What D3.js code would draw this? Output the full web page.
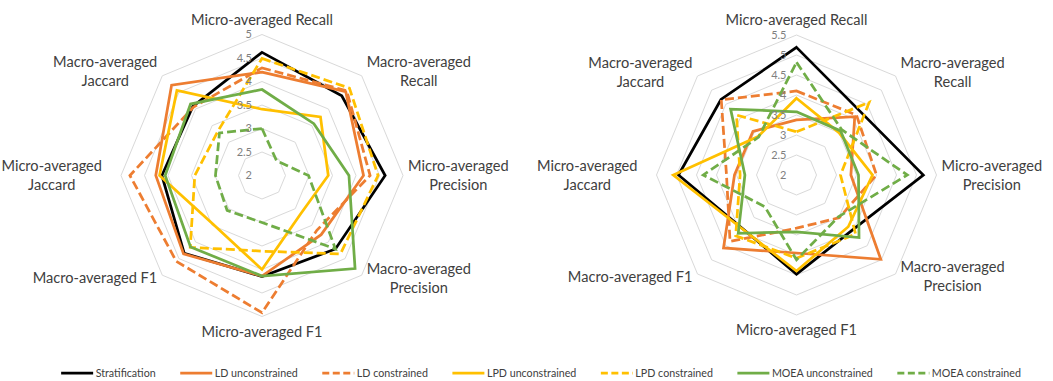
<!DOCTYPE html>
<html>
<head>
<meta charset="utf-8">
<script src="https://cdn.jsdelivr.net/npm/d3@7"></script>
<style>
  html, body { margin: 0; padding: 0; background: #ffffff; }
  svg { display: block; font-family: Lato, "Open Sans", sans-serif; }
</style>
</head>
<body>
<svg id="chart" width="1053" height="381"></svg>
<script>
// Metric axes, clockwise from the top
const axes = [
  "Micro-averaged Recall", "Macro-averaged Recall", "Micro-averaged Precision",
  "Macro-averaged Precision", "Micro-averaged F1", "Macro-averaged F1",
  "Micro-averaged Jaccard", "Macro-averaged Jaccard"
];
// How each axis name wraps in its label
const axisLabelLines = [
  ["Micro-averaged Recall"], ["Macro-averaged", "Recall"], ["Micro-averaged", "Precision"],
  ["Macro-averaged", "Precision"], ["Micro-averaged F1"], ["Macro-averaged F1"],
  ["Micro-averaged", "Jaccard"], ["Macro-averaged", "Jaccard"]
];

const seriesNames = [
  "Stratification", "LD unconstrained", "LD constrained",
  "LPD unconstrained", "LPD constrained", "MOEA unconstrained", "MOEA constrained"
];

// Radial tick labels
const leftTicks = [2, 2.5, 3, 3.5, 4, 4.5, 5];
const rightTicks = [2, 2.5, 3, 3.5, 4, 4.5, 5, 5.5];

// Left radar: one value per axis
const leftStratification    = [4.62, 4.40, 4.62, 4.21, 4.15, 4.34, 4.13, 4.08];
const leftLDUnconstrained   = [4.20, 4.52, 4.16, 3.78, 4.14, 4.36, 4.26, 4.72];
const leftLDConstrained     = [4.29, 4.55, 4.30, 3.65, 4.92, 4.58, 4.81, 4.06];
const leftLPDUnconstrained  = [3.41, 3.76, 3.41, 3.16, 4.00, 3.47, 4.18, 4.56];
const leftLPDConstrained    = [4.49, 4.63, 4.47, 4.36, 3.61, 4.16, 3.43, 3.33];
const leftMOEAUnconstrained = [3.83, 3.56, 3.85, 4.80, 4.14, 4.15, 4.06, 4.15];
const leftMOEAConstrained   = [3.00, 2.44, 2.99, 4.21, 3.00, 3.05, 2.99, 3.28];

// Right radar: one value per axis
const rightStratification    = [5.19, 4.25, 5.17, 3.96, 4.48, 3.90, 4.95, 4.67];
const rightLDUnconstrained   = [3.38, 4.06, 3.36, 4.98, 3.95, 4.58, 3.55, 3.54];
const rightLDConstrained     = [4.10, 4.12, 4.00, 3.51, 3.33, 4.35, 3.75, 4.66];
const rightLPDUnconstrained  = [3.92, 3.50, 3.90, 3.83, 4.40, 3.91, 5.08, 3.36];
const rightLPDConstrained    = [3.08, 4.57, 3.10, 4.09, 4.08, 4.15, 3.41, 4.12];
const rightMOEAUnconstrained = [3.58, 3.56, 3.55, 4.21, 3.42, 4.06, 3.29, 4.33];
const rightMOEAConstrained   = [4.82, 3.60, 4.77, 3.48, 4.12, 3.12, 4.33, 3.34];

const leftSeries = [leftStratification, leftLDUnconstrained, leftLDConstrained,
  leftLPDUnconstrained, leftLPDConstrained, leftMOEAUnconstrained, leftMOEAConstrained];
const rightSeries = [rightStratification, rightLDUnconstrained, rightLDConstrained,
  rightLPDUnconstrained, rightLPDConstrained, rightMOEAUnconstrained, rightMOEAConstrained];

// Line styles per series
const seriesColors = ["#000000", "#ED7D31", "#ED7D31", "#FFC000", "#FFC000", "#70AD47", "#70AD47"];
const seriesDashed = [false, false, true, false, true, false, true];
const DASH = "9,4";
const LINE_W = 2.75;

const svg = d3.select("#chart");
svg.append("rect").attr("width", 1053).attr("height", 381).attr("fill", "#ffffff");

const angle = d3.scaleLinear().domain([0, axes.length]).range([0, 2 * Math.PI]);

function drawRadar(cx, cy, outerR, ticks, series) {
  const g = svg.append("g").attr("transform", `translate(${cx},${cy})`);
  const r = d3.scaleLinear().domain([d3.min(ticks), d3.max(ticks)]).range([0, outerR]);
  const pt = (i, v) => [Math.sin(angle(i)) * r(v), -Math.cos(angle(i)) * r(v)];

  // Grid rings (octagons) at every tick above the centre
  const ring = d3.line();
  g.append("g").selectAll("path")
    .data(ticks.slice(1))
    .join("path")
    .attr("d", t => ring(axes.map((_, i) => pt(i, t))) + "Z")
    .attr("fill", "none")
    .attr("stroke", "#d9d9d9")
    .attr("stroke-width", 1);

  // Series polygons, first series at the bottom
  const radial = d3.lineRadial()
    .angle((d, i) => angle(i))
    .radius(d => r(d))
    .curve(d3.curveLinearClosed);
  g.append("g").selectAll("path")
    .data(series)
    .join("path")
    .attr("d", d => radial(d))
    .attr("fill", "none")
    .attr("stroke", (d, i) => seriesColors[i])
    .attr("stroke-width", LINE_W)
    .attr("stroke-linejoin", "miter")
    .attr("stroke-dasharray", (d, i) => seriesDashed[i] ? DASH : null);

  // Radial tick labels along the top axis
  g.append("g").selectAll("text")
    .data(ticks)
    .join("text")
    .attr("x", -10)
    .attr("y", t => -r(t))
    .attr("dy", "0.35em")
    .attr("text-anchor", "end")
    .attr("font-size", 11)
    .attr("fill", "#7f7f7f")
    .text(t => t);

  // Axis name labels, positioned outside the outer ring
  const lineH = 19;
  axisLabelLines.forEach((lines, i) => {
    const a = angle(i);
    const s = Math.sin(a), c = Math.cos(a);
    const vx = s * outerR, vy = -c * outerR;
    const t = g.append("text")
      .attr("text-anchor", "middle")
      .attr("font-size", 14.6)
      .attr("fill", "#404040");
    lines.forEach((ln, k) => {
      t.append("tspan").attr("x", 0).attr("y", k * lineH).text(ln);
    });
    const bb = t.node().getBBox();
    const w = bb.width, h = lines.length * lineH;
    let x = vx, yc;
    // the left-hand horizontal label sits further out than the others
    const gap = (s < -0.9) ? 19 : 5;
    if (s > 0.3) x = vx + gap + w / 2;
    else if (s < -0.3) x = vx - gap - w / 2;
    if (c > 0.9) yc = vy - 15;
    else if (c < -0.9) yc = vy + 15;
    else if (c > 0.3) yc = vy - 4;
    else if (c < -0.3) yc = vy + 3;
    else yc = vy;
    // first baseline so that the block is vertically centred on yc
    const y0 = yc - h / 2 + lineH / 2 + 5;
    t.attr("transform", `translate(${x},${y0})`);
  });
}

drawRadar(262, 175.5, 141, leftTicks, leftSeries);
drawRadar(796.5, 175, 140, rightTicks, rightSeries);

// Legend along the bottom, centred
const legend = svg.append("g");
const legendY = 373;
const items = legend.selectAll("g").data(seriesNames).join("g");
items.append("line")
  .attr("x1", 0).attr("x2", 32)
  .attr("y1", legendY).attr("y2", legendY)
  .attr("stroke", (d, i) => seriesColors[i])
  .attr("stroke-width", LINE_W)
  .attr("stroke-dasharray", (d, i) => seriesDashed[i] ? "7,3.5" : null);
items.append("text")
  .attr("x", 34.5)
  .attr("y", legendY + 4)
  .attr("font-size", 10.7)
  .attr("fill", "#404040")
  .text(d => d);
let lx = 0;
const starts = [];
items.each(function () {
  starts.push(lx);
  const w = d3.select(this).select("text").node().getComputedTextLength();
  lx += 34.5 + w + 24.5;
});
const total = lx - 24.5;
const offset = 541 - total / 2;
items.attr("transform", (d, i) => `translate(${offset + starts[i]},0)`);
</script>
</body>
</html>
